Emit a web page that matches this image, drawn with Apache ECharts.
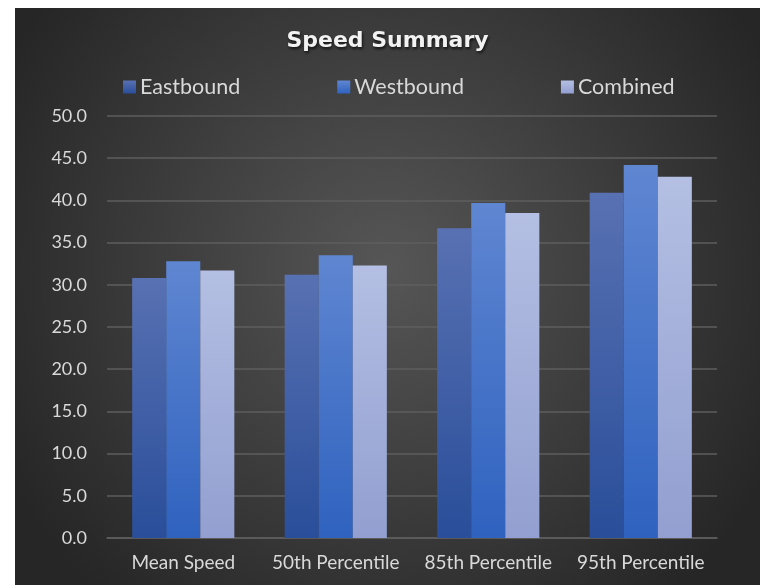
<!DOCTYPE html>
<html>
<head>
<meta charset="utf-8">
<script src="https://cdn.jsdelivr.net/npm/echarts@6/dist/echarts.min.js"></script>
<style>
html,body{margin:0;padding:0;background:#ffffff;width:760px;height:585px;overflow:hidden;}
#chart{position:absolute;left:15px;top:8px;width:745px;height:577px;}
</style>
</head>
<body>
<div id="chart"></div>
<script>
const categories = ['Mean Speed', '50th Percentile', '85th Percentile', '95th Percentile'];
const eastbound = [30.8, 31.2, 36.7, 40.9];
const westbound = [32.8, 33.5, 39.7, 44.2];
const combined = [31.7, 32.3, 38.5, 42.8];
const yTicks = { min: 0, max: 50, interval: 5 };

const FONT = 'Lato';
function grad(top, bottom) {
  return new echarts.graphic.LinearGradient(0, 0, 0, 1, [
    { offset: 0, color: top }, { offset: 1, color: bottom }
  ]);
}
const chart = echarts.init(document.getElementById('chart'));
const barShadow = { shadowBlur: 6, shadowColor: 'rgba(0,0,0,0.55)', shadowOffsetX: 2, shadowOffsetY: 1 };
chart.setOption({
  backgroundColor: new echarts.graphic.RadialGradient(0.5, 0.45, 0.75, [
    { offset: 0, color: '#565656' }, { offset: 1, color: '#262626' }
  ]),
  title: {
    text: 'Speed Summary',
    left: 'center',
    top: 17,
    textStyle: {
      fontFamily: 'DejaVu Sans', fontSize: 22, fontWeight: 'bold', color: '#f2f2f2',
      textShadowColor: 'rgba(0,0,0,0.7)', textShadowBlur: 3, textShadowOffsetX: 1, textShadowOffsetY: 2
    }
  },
  legend: {
    top: 63,
    left: 103,
    itemGap: 97,
    itemWidth: 13,
    itemHeight: 13,
    icon: 'rect',
    textStyle: { fontFamily: FONT, fontSize: 21.5, color: '#d9d9d9', padding: [0, 0, 0, -1] },
    data: ['Eastbound', 'Westbound', 'Combined']
  },
  grid: { left: 92, right: 43, top: 108, bottom: 47, containLabel: false },
  xAxis: {
    type: 'category',
    data: categories,
    axisLine: { lineStyle: { color: '#5e5e5e', width: 1.5 } },
    axisTick: { show: false },
    axisLabel: { interval: 0, hideOverlap: false, fontFamily: FONT, fontSize: 19, color: '#d9d9d9', margin: 15 }
  },
  yAxis: {
    type: 'value',
    min: yTicks.min, max: yTicks.max, interval: yTicks.interval,
    axisLine: { show: false },
    axisTick: { show: false },
    splitLine: { lineStyle: { color: '#5e5e5e', width: 1.5 } },
    axisLabel: { fontFamily: FONT, fontSize: 18, color: '#d9d9d9', margin: 20, formatter: v => v.toFixed(1) }
  },
  series: [
    { name: 'Eastbound', type: 'bar', data: eastbound, barGap: '0%', barCategoryGap: '33%',
      itemStyle: Object.assign({ color: grad('#5871b2', '#2a4e9a') }, barShadow) },
    { name: 'Westbound', type: 'bar', data: westbound, barGap: '0%', barCategoryGap: '33%',
      itemStyle: Object.assign({ color: grad('#5f86d1', '#2f62bf') }, barShadow) },
    { name: 'Combined', type: 'bar', data: combined, barGap: '0%', barCategoryGap: '33%',
      itemStyle: Object.assign({ color: grad('#b4bfe3', '#929fd0') }, barShadow) }
  ]
});
</script>
</body>
</html>
